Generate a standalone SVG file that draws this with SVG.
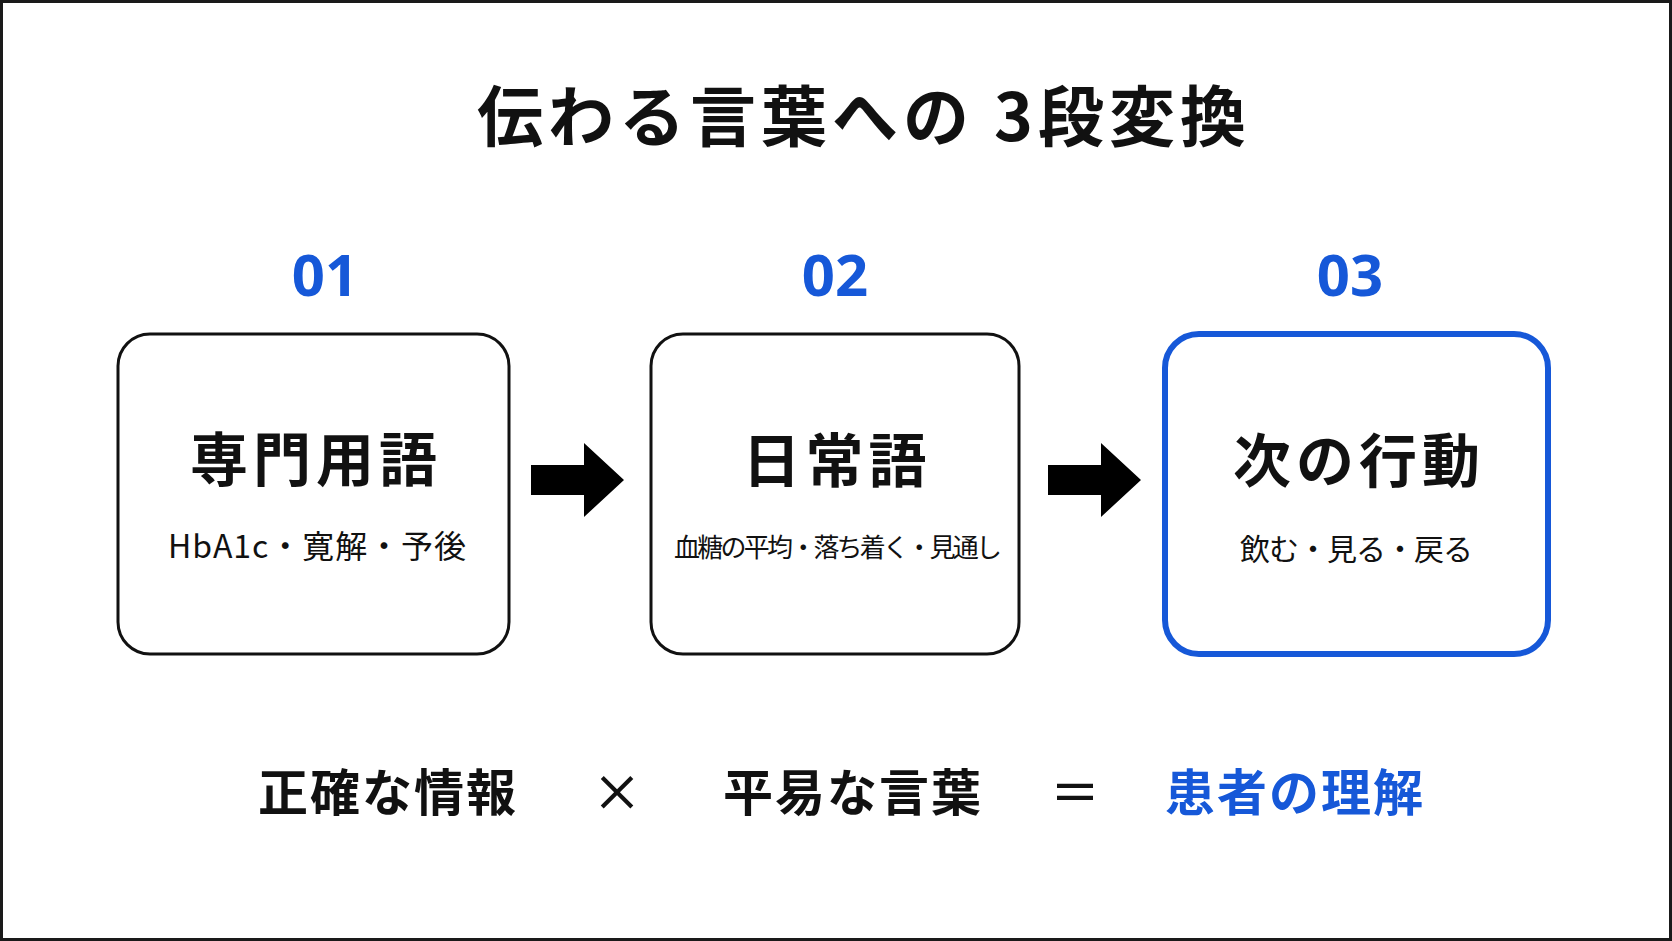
<svg xmlns="http://www.w3.org/2000/svg" width="1672" height="941" viewBox="0 0 1672 941">
  <style>
    .jp { font-family: "Noto Sans CJK JP", "Noto Sans", sans-serif; }
    .title { font-size: 66px; font-weight: 700; fill: #111; letter-spacing: 5px; }
    .num { font-family: "Noto Sans", "Noto Sans CJK JP", sans-serif; font-size: 58px; font-weight: 700; fill: #1658d8; }
    .head { font-size: 58px; font-weight: 700; fill: #111; letter-spacing: 5px; }
    .sub { fill: #111; font-weight: 400; }
    .box { fill: #fff; stroke: #111; stroke-width: 3; }
    .box-hi { fill: #fff; stroke: #1658d8; stroke-width: 6; }
    .eq { font-size: 50px; font-weight: 700; fill: #111; letter-spacing: 2px; }
    .op { font-size: 50px; font-weight: 500; fill: #111; }
    .blue { fill: #1658d8; }
    .arrow { fill: #000; }
  </style>
  <rect x="0" y="0" width="1672" height="941" fill="#fff"/>
  <rect x="1.5" y="1.5" width="1669" height="938" fill="none" stroke="#1a1a1a" stroke-width="3"/>

  <text id="title" class="jp title" x="864" y="141" text-anchor="middle">伝わる言葉への 3段変換</text>

  <g id="node1">
    <text class="num" x="325" y="296" text-anchor="middle">01</text>
    <rect class="box" x="118" y="334" width="391" height="320" rx="32"/>
    <text class="jp head" x="316" y="481" text-anchor="middle">専門用語</text>
    <text class="jp sub" x="168" y="558" font-size="32" textLength="298" lengthAdjust="spacing">HbA1c・寛解・予後</text>
  </g>

  <g id="node2">
    <text class="num" x="835" y="296" text-anchor="middle">02</text>
    <rect class="box" x="651" y="334" width="368" height="320" rx="32"/>
    <text class="jp head" x="837" y="482" text-anchor="middle">日常語</text>
    <text class="jp sub" x="674" y="557" font-size="26" textLength="328" lengthAdjust="spacing">血糖の平均・落ち着く・見通し</text>
  </g>

  <g id="node3">
    <text class="num" x="1350" y="296" text-anchor="middle">03</text>
    <rect class="box-hi" x="1165" y="334" width="383" height="320" rx="34"/>
    <text class="jp head" x="1359" y="482" text-anchor="middle">次の行動</text>
    <text class="jp sub" x="1240" y="560" font-size="30" textLength="233" lengthAdjust="spacing">飲む・見る・戻る</text>
  </g>

  <g id="connectors">
    <path class="arrow" d="M531 465 H584 V443 L624 480 L584 517 V495 H531 Z"/>
    <path class="arrow" d="M1048 465 H1101 V443 L1141 480 L1101 517 V495 H1048 Z"/>
  </g>

  <g id="formula">
    <text class="jp eq" x="258" y="811">正確な情報</text>
    <text class="jp op" x="617" y="811" text-anchor="middle">×</text>
    <text class="jp eq" x="723" y="811">平易な言葉</text>
    <text class="jp op" x="1075" y="811" text-anchor="middle">＝</text>
    <text class="jp eq blue" x="1165" y="811">患者の理解</text>
  </g>
</svg>
